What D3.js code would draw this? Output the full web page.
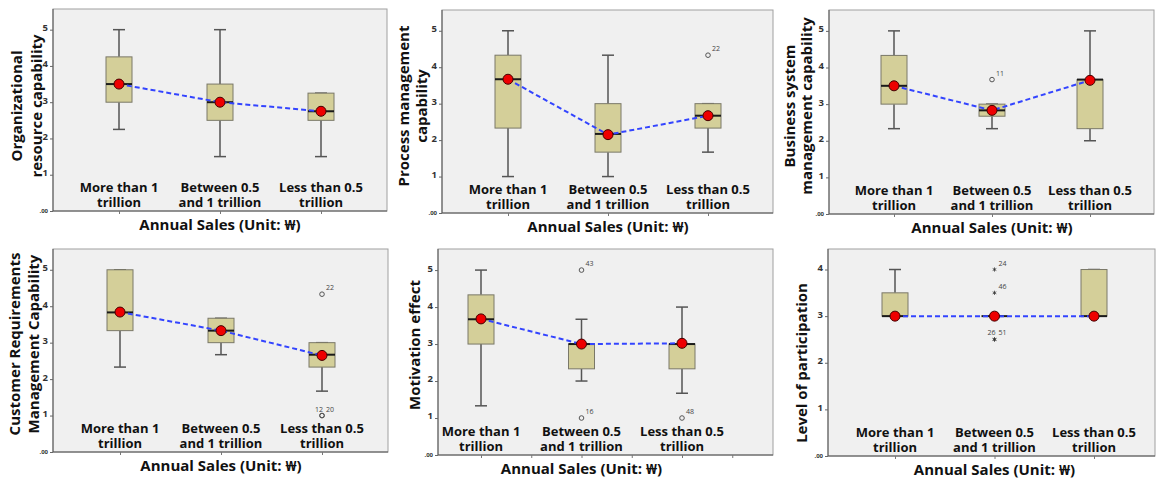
<!DOCTYPE html>
<html>
<head>
<meta charset="utf-8">
<script src="https://cdn.jsdelivr.net/npm/d3@7"></script>
<style>
  body { margin: 0; background: #fff; }
  svg text { font-family: "Open Sans", "Noto Sans", sans-serif; }
</style>
</head>
<body>
<svg id="chart" width="1156" height="479"></svg>
<script>
// categories (two-line labels)
const catLine1 = ['More than 1', 'Between 0.5', 'Less than 0.5']
const catLine2 = ['trillion', 'and 1 trillion', 'trillion']
const xTitle = 'Annual Sales (Unit: \u20a9)'

// box stats per category: [low whisker, q1, median, q3, high whisker]
const orgBox = [[2.25, 3, 3.5, 4.25, 5], [1.5, 2.5, 3, 3.5, 5], [1.5, 2.5, 2.75, 3.25, 3.25]]
const orgMean = [3.5, 3, 2.75]

const procBox = [[1, 2.33, 3.67, 4.33, 5], [1, 1.67, 2.17, 3, 4.33], [1.67, 2.33, 2.67, 3, 3]]
const procMean = [3.67, 2.15, 2.67]
const procOut = [[2, 4.33, '22']]

const bizBox = [[2.33, 3, 3.5, 4.33, 5], [2.33, 2.67, 2.83, 3, 3], [2, 2.33, 3.67, 3.67, 5]]
const bizMean = [3.5, 2.83, 3.65]
const bizOut = [[1, 3.67, '11']]

const custBox = [[2.33, 3.33, 3.83, 5, 5], [2.67, 3, 3.33, 3.67, 3.67], [1.67, 2.33, 2.67, 3, 3]]
const custMean = [3.84, 3.33, 2.65]
const custOut = [[2, 4.33, '22'], [2, 1, '12'], [2, 1, '20']]

const motBox = [[1.33, 3, 3.67, 4.33, 5], [2, 2.33, 3, 3, 3.67], [1.67, 2.33, 3, 3, 4]]
const motMean = [3.68, 3, 3.02]
const motOut = [[1, 5, '43'], [1, 1, '16'], [2, 1, '48']]

const partBox = [[3, 3, 3, 3.5, 4], [3, 3, 3, 3, 3], [3, 3, 3, 4, 4]]
const partMean = [3, 3, 3]
const partExt = [[1, 4, '24'], [1, 3.5, '46'], [1, 2.5, '26'], [1, 2.5, '51']]

const ticks5 = [0, 1, 2, 3, 4, 5]
const ticks4 = [0, 1, 2, 3, 4]

// layout of the six panels
const panels = [
  { title: ['Organizational', 'resource capability'], tx: [22, 42], tc: 106,
    box: orgBox, mean: orgMean, out: [], ext: [],
    x0: 53, x1: 387, y0: 9, y1: 211, padL: 66, padR: 66, top: 5.57, ticks: ticks5 },
  { title: ['Process management', 'capability'], tx: [409, 427], tc: 106,
    box: procBox, mean: procMean, out: procOut, ext: [],
    x0: 442, x1: 773, y0: 10, y1: 213, padL: 66, padR: 65, top: 5.57, ticks: ticks5 },
  { title: ['Business system', 'management capability'], tx: [795, 812], tc: 106,
    box: bizBox, mean: bizMean, out: bizOut, ext: [],
    x0: 829, x1: 1154, y0: 10, y1: 214, padL: 65, padR: 64, top: 5.57, ticks: ticks5 },
  { title: ['Customer Requirements', 'Management Capability'], tx: [20, 39], tc: 344,
    box: custBox, mean: custMean, out: custOut, ext: [],
    x0: 53, x1: 388, y0: 249, y1: 452, padL: 67, padR: 66, top: 5.57, ticks: ticks5 },
  { title: ['Motivation effect'], tx: [420], tc: 345,
    box: motBox, mean: motMean, out: motOut, ext: [], midTicks: true,
    x0: 438, x1: 773, y0: 249, y1: 455, padL: 43, padR: 91, top: 5.57, ticks: ticks5 },
  { title: ['Level of participation'], tx: [807], tc: 363,
    box: partBox, mean: partMean, out: [], ext: partExt,
    x0: 828, x1: 1155, y0: 249, y1: 456, padL: 67, padR: 61, top: 4.44, ticks: ticks4 }
]

const svg = d3.select('#chart')
const boxW = 26, capW = 12

panels.forEach(p => {
  const g = svg.append('g')
  const x = d3.scaleLinear().domain([0, 2]).range([p.x0 + p.padL, p.x1 - p.padR])
  const y = d3.scaleLinear().domain([0, p.top]).range([p.y1, p.y0])

  // plot frame
  g.append('rect')
    .attr('x', p.x0).attr('y', p.y0)
    .attr('width', p.x1 - p.x0).attr('height', p.y1 - p.y0)
    .attr('fill', '#f0f0f0').attr('stroke', '#a0a0a0')

  // y axis
  const ya = g.append('g')
    .attr('transform', 'translate(' + p.x0 + ',0)')
    .call(d3.axisLeft(y).tickValues(p.ticks).tickSize(3).tickPadding(2)
      .tickFormat(d => d === 0 ? '.00' : d))
  ya.select('.domain').attr('stroke', '#555').attr('d', 'M0,' + p.y0 + 'V' + p.y1)
  ya.selectAll('.tick line').attr('stroke', '#666')
  ya.selectAll('.tick text')
    .attr('font-size', d => d === 0 ? 6 : 9.5)
    .attr('font-weight', 'bold')
    .attr('fill', '#333')
    .attr('dy', d => d === 0 ? '0.2em' : '0.1em')

  // x axis (ticks only, labels sit inside the plot)
  const xt = p.midTicks ? [0, 0.5, 1, 1.5, 2, 2.5] : [0, 1, 2]
  const xa = g.append('g')
    .attr('transform', 'translate(0,' + p.y1 + ')')
    .call(d3.axisBottom(x).tickValues(xt).tickSize(3).tickFormat(''))
  xa.select('.domain').attr('stroke', '#555').attr('d', 'M' + p.x0 + ',0H' + p.x1)
  xa.selectAll('.tick line').attr('stroke', '#777')

  // category labels
  const cl = g.append('g').selectAll('text').data([0, 1, 2]).join('text')
    .attr('text-anchor', 'middle')
    .attr('font-size', 13)
    .attr('font-weight', 'bold')
    .attr('fill', '#111')
  cl.append('tspan').attr('x', d => x(d)).attr('y', p.y1 - 19).text(d => catLine1[d])
  cl.append('tspan').attr('x', d => x(d)).attr('y', p.y1 - 4).text(d => catLine2[d])

  // x title
  g.append('text')
    .attr('x', x(1)).attr('y', p.y1 + 19)
    .attr('text-anchor', 'middle')
    .attr('font-size', 15).attr('font-weight', 'bold').attr('fill', '#111')
    .text(xTitle)

  // y title
  p.title.forEach((t, i) => {
    g.append('text')
      .attr('transform', 'translate(' + p.tx[i] + ',' + p.tc + ') rotate(-90)')
      .attr('text-anchor', 'middle')
      .attr('font-size', 15).attr('font-weight', 'bold').attr('fill', '#111')
      .text(t)
  })

  // boxes
  const b = g.append('g').selectAll('g').data(p.box).join('g')
  b.append('line')
    .attr('x1', (d, i) => x(i)).attr('x2', (d, i) => x(i))
    .attr('y1', d => y(d[0])).attr('y2', d => y(d[1]))
    .attr('stroke', '#555').attr('stroke-width', 1.5)
  b.append('line')
    .attr('x1', (d, i) => x(i)).attr('x2', (d, i) => x(i))
    .attr('y1', d => y(d[3])).attr('y2', d => y(d[4]))
    .attr('stroke', '#555').attr('stroke-width', 1.5)
  b.selectAll('line.cap').data((d, i) => [[i, d[0]], [i, d[4]]]).join('line')
    .attr('class', 'cap')
    .attr('x1', d => x(d[0]) - capW / 2).attr('x2', d => x(d[0]) + capW / 2)
    .attr('y1', d => y(d[1])).attr('y2', d => y(d[1]))
    .attr('stroke', '#555').attr('stroke-width', 1.5)
  b.append('rect')
    .attr('x', (d, i) => x(i) - boxW / 2).attr('width', boxW)
    .attr('y', d => y(d[3])).attr('height', d => y(d[1]) - y(d[3]))
    .attr('fill', '#d4cf99').attr('stroke', '#7a7868').attr('stroke-width', 1)
  b.append('line')
    .attr('x1', (d, i) => x(i) - boxW / 2).attr('x2', (d, i) => x(i) + boxW / 2)
    .attr('y1', d => y(d[2])).attr('y2', d => y(d[2]))
    .attr('stroke', '#1a1a1a').attr('stroke-width', 2)

  // outliers (circles) and extremes (asterisks)
  const labelPts = (pts) => {
    const seen = {}
    return pts.map(d => {
      const k = d[0] + '_' + d[1]
      seen[k] = (seen[k] || 0) + 1
      return { c: d[0], v: d[1], lab: d[2], n: seen[k], multi: pts.filter(e => e[0] === d[0] && e[1] === d[1]).length > 1 }
    })
  }
  const outs = labelPts(p.out)
  g.append('g').selectAll('circle').data(outs).join('circle')
    .attr('cx', d => x(d.c)).attr('cy', d => y(d.v)).attr('r', 2.3)
    .attr('fill', 'none').attr('stroke', '#555').attr('stroke-width', 1)
  const exts = labelPts(p.ext)
  g.append('g').selectAll('path').data(exts).join('path')
    .attr('transform', d => 'translate(' + x(d.c) + ',' + y(d.v) + ')')
    .attr('d', d3.symbol(d3.symbolAsterisk, 12))
    .attr('stroke', '#333').attr('stroke-width', 0.8)
  g.append('g').selectAll('text').data(outs.concat(exts)).join('text')
    .attr('x', d => x(d.c) + (d.multi && d.n === 1 ? 1 : 4))
    .attr('y', d => y(d.v) - 4)
    .attr('text-anchor', d => d.multi && d.n === 1 ? 'end' : 'start')
    .attr('font-size', 7).attr('fill', '#444')
    .text(d => d.lab)

  // mean line and markers
  g.append('path')
    .datum(p.mean)
    .attr('d', d3.line().x((d, i) => x(i)).y(d => y(d)))
    .attr('fill', 'none').attr('stroke', '#3344ff').attr('stroke-width', 2)
    .attr('stroke-dasharray', '5,3')
  g.append('g').selectAll('circle').data(p.mean).join('circle')
    .attr('cx', (d, i) => x(i)).attr('cy', d => y(d)).attr('r', 5)
    .attr('fill', '#ee0000').attr('stroke', '#400').attr('stroke-width', 1)
})
</script>
</body>
</html>
